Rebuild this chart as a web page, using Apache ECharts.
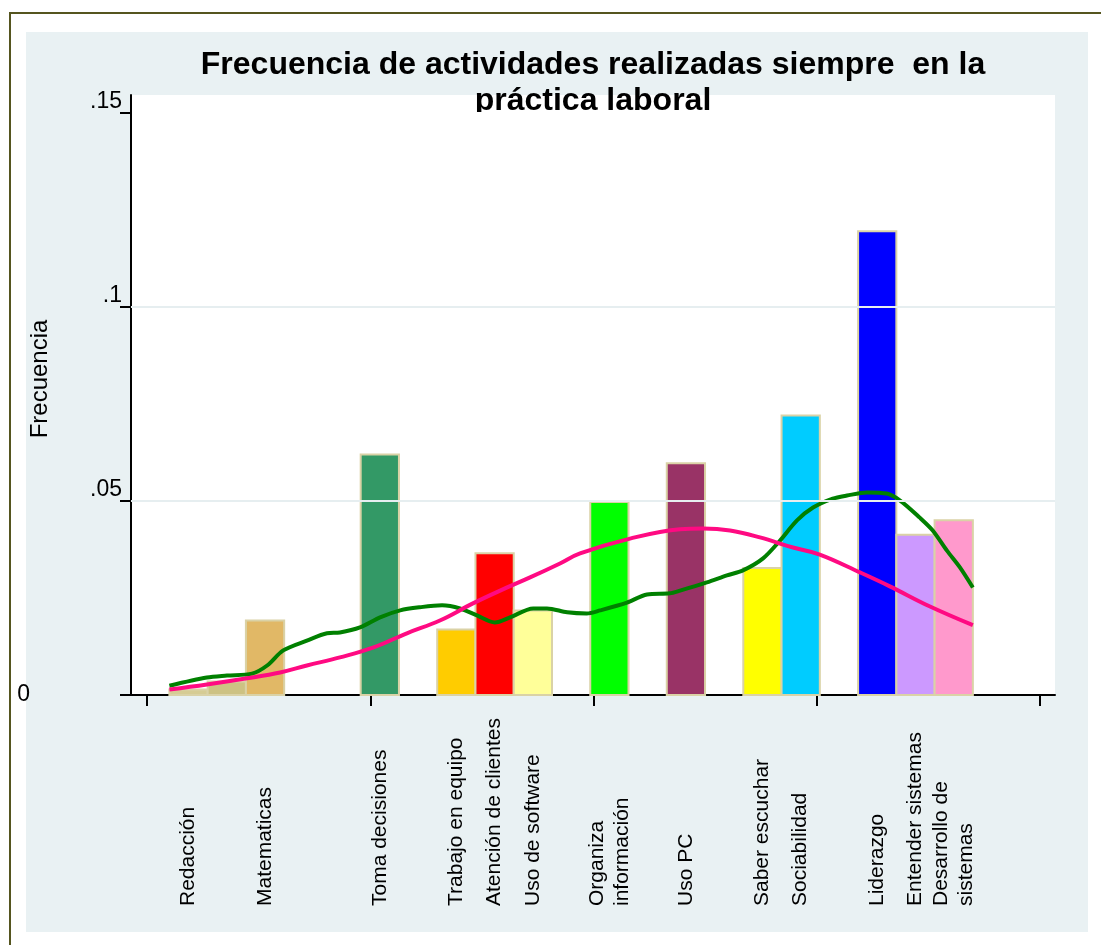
<!DOCTYPE html>
<html>
<head>
<meta charset="utf-8">
<script src="https://cdn.jsdelivr.net/npm/echarts@6/dist/echarts.min.js"></script>
<style>
  html, body { margin: 0; padding: 0; background: #fff; }
  #chart { width: 1101px; height: 945px; }
</style>
</head>
<body>
<div id="chart"></div>
<script>
// histogram: 21 bins from 0.5 to 18.5
const binStart = 0.5;
const binWidth = 18 / 21;

// filled bins (index) and their frequency
const binIndex = [0, 1, 2, 5, 7, 8, 9, 11, 13, 15, 16, 18, 19, 20];
const binFreq = [0.0014, 0.0035, 0.0192, 0.0620, 0.0169, 0.0365, 0.0218, 0.0497, 0.0597, 0.0327, 0.0720, 0.1195, 0.0413, 0.0450];
const binColors = ["#d6cc94", "#cdc283", "#e1b866", "#339966", "#ffcc00", "#ff0000", "#ffff99", "#00ff00", "#993366", "#ffff00", "#00ccff", "#0000ff", "#cc99ff", "#ff99cc"];

// category text under the axis, with the bin it belongs to
const categories = ["Redacción", "Matematicas", "Toma decisiones", "Trabajo en equipo", "Atención de clientes", "Uso de software", "Organiza\ninformación", "Uso PC", "Saber escuchar", "Sociabilidad", "Liderazgo", "Entender sistemas", "Desarrollo de\nsistemas"];
const categoryBin = [0, 2, 5, 7, 8, 9, 11, 13, 15, 16, 18, 19, 20];

// normal curve (pink) and kernel density (green)
const normalCurve = [[0.5,0.0014],[1.34,0.0027],[2.24,0.0043],[2.98,0.0058],[3.58,0.0076],[4.32,0.0097],[5.06,0.0122],[5.82,0.0159],[6.56,0.0192],[7.30,0.0236],[7.91,0.0269],[8.58,0.0303],[9.25,0.0339],[9.70,0.0365],[10.82,0.0403],[11.94,0.0427],[12.45,0.0429],[13.06,0.0424],[13.73,0.0406],[14.47,0.0380],[15.07,0.0362],[15.97,0.0316],[16.64,0.0280],[17.54,0.0228],[18.5,0.0180]];
const kernelCurve = [[0.5,0.0024],[1.34,0.0045],[1.79,0.0050],[2.35,0.0055],[2.69,0.0076],[3.05,0.0115],[3.58,0.0140],[4.03,0.0159],[4.32,0.0161],[4.77,0.0174],[5.22,0.0200],[5.67,0.0218],[6.11,0.0226],[6.61,0.0231],[7.01,0.0223],[7.39,0.0205],[7.79,0.0187],[8.13,0.0200],[8.65,0.0223],[8.96,0.0223],[9.41,0.0213],[9.85,0.0210],[10.15,0.0218],[10.75,0.0238],[11.20,0.0259],[11.71,0.0262],[11.94,0.0269],[12.54,0.0290],[12.99,0.0308],[13.35,0.0321],[13.80,0.0352],[14.18,0.0398],[14.56,0.0450],[14.92,0.0483],[15.36,0.0506],[15.68,0.0514],[16.13,0.0522],[16.57,0.0519],[16.87,0.0501],[17.31,0.0457],[17.60,0.0424],[17.92,0.0372],[18.21,0.0329],[18.5,0.0277]];

// axis ticks
const xTicks = [0, 5, 10, 15, 20];
const yTicks = [0, 0.05, 0.1, 0.15];
const yTickText = ["0", ".05", ".1", ".15"];
const yGridLines = [0.05, 0.1];

const font = "Liberation Sans, Arial, sans-serif";

const myChart = echarts.init(document.getElementById("chart"));

const barData = binIndex.map((b, i) => [binStart + b * binWidth, binStart + (b + 1) * binWidth, binFreq[i], i]);
const labelData = categories.map((c, i) => [binStart + (categoryBin[i] + 0.5) * binWidth, 0, i]);

const option = {
  backgroundColor: "#fff",
  animation: false,
  graphic: [
    {
      type: "rect", z: -10,
      shape: { x: 10, y: 13, width: 1110, height: 960 },
      style: { fill: "#fff", stroke: "#55551f", lineWidth: 2 },
    },
    {
      type: "rect", z: -9,
      shape: { x: 26, y: 32, width: 1062, height: 900 },
      style: { fill: "#e9f1f3" },
    },
    {
      type: "text", z: 10,
      x: 593, y: 47,
      style: {
        text: "Frecuencia de actividades realizadas siempre  en la\npráctica laboral",
        fill: "#000", font: "bold 32px " + font,
        align: "center", verticalAlign: "top", lineHeight: 36,
      },
    },
    {
      // the plot area hides the bottom of the title's second line
      type: "rect", z: 11,
      shape: { x: 400, y: 112, width: 400, height: 14 },
      style: { fill: "#fff" },
    },
    {
      type: "text", z: 10,
      x: 40, y: 379, rotation: Math.PI / 2,
      style: {
        text: "Frecuencia", fill: "#000", font: "24px " + font,
        align: "center", verticalAlign: "middle",
      },
    },
  ],
  grid: {
    left: 131, right: 46, top: 95, bottom: 250,
    show: true, backgroundColor: "#fff", borderWidth: 0,
  },
  xAxis: {
    type: "value",
    min: -0.36, max: 20.34,
    axisLine: { show: true, onZero: false, lineStyle: { color: "#000", width: 2 } },
    axisTick: { show: true, customValues: xTicks, length: 11, lineStyle: { color: "#000", width: 2 } },
    axisLabel: { show: false },
    splitLine: { show: false },
  },
  yAxis: {
    type: "value",
    min: 0, max: 0.1546,
    axisLine: { show: true, onZero: false, lineStyle: { color: "#000", width: 2 } },
    axisTick: { show: true, customValues: yTicks, length: 11, lineStyle: { color: "#000", width: 2 } },
    axisLabel: {
      customValues: yTicks,
      margin: 9,
      verticalAlign: "middle",
      formatter: (v) => {
        const i = yTicks.findIndex((t) => Math.abs(t - v) < 1e-9);
        const t = i < 0 ? "" : yTickText[i];
        return v === 0 ? "{zero|" + t + "}" : "{up|" + t + "}";
      },
      rich: {
        zero: { fontSize: 23, fontFamily: font, color: "#000", padding: [0, 92, 0, 0] },
        up: { fontSize: 23, fontFamily: font, color: "#000", padding: [0, 0, 22, 0] },
      },
    },
    splitLine: { show: false },
  },
  series: [
    {
      type: "line",
      data: [],
      z: 1,
      silent: true,
      markLine: {
        symbol: "none",
        silent: true,
        label: { show: false },
        lineStyle: { color: "#e6eef0", width: 2, type: "solid" },
        data: yGridLines.map((v) => ({ yAxis: v })),
      },
    },
    {
      type: "custom",
      z: 2,
      data: barData,
      encode: { x: [0, 1], y: 2 },
      renderItem: (params, api) => {
        const p0 = api.coord([api.value(0), api.value(2)]);
        const p1 = api.coord([api.value(1), 0]);
        return {
          type: "rect",
          shape: { x: p0[0], y: p0[1], width: p1[0] - p0[0], height: p1[1] - p0[1] },
          style: { fill: binColors[api.value(3)], stroke: "#dad2a6", lineWidth: 2 },
        };
      },
    },
    {
      type: "line",
      z: 3,
      data: kernelCurve,
      showSymbol: false,
      smooth: 0.3,
      lineStyle: { color: "#008000", width: 4 },
    },
    {
      type: "line",
      z: 4,
      data: normalCurve,
      showSymbol: false,
      smooth: 0.4,
      lineStyle: { color: "#ff0a82", width: 4 },
    },
    {
      type: "custom",
      z: 5,
      clip: false,
      data: labelData,
      encode: { x: 0, y: 1 },
      renderItem: (params, api) => {
        const p = api.coord([api.value(0), 0]);
        return {
          type: "text",
          x: p[0], y: 906,
          rotation: Math.PI / 2,
          style: {
            text: categories[api.value(2)],
            fill: "#000", font: "21px " + font,
            align: "left", verticalAlign: "middle", lineHeight: 25,
          },
        };
      },
    },
  ],
};

myChart.setOption(option);
</script>
</body>
</html>
